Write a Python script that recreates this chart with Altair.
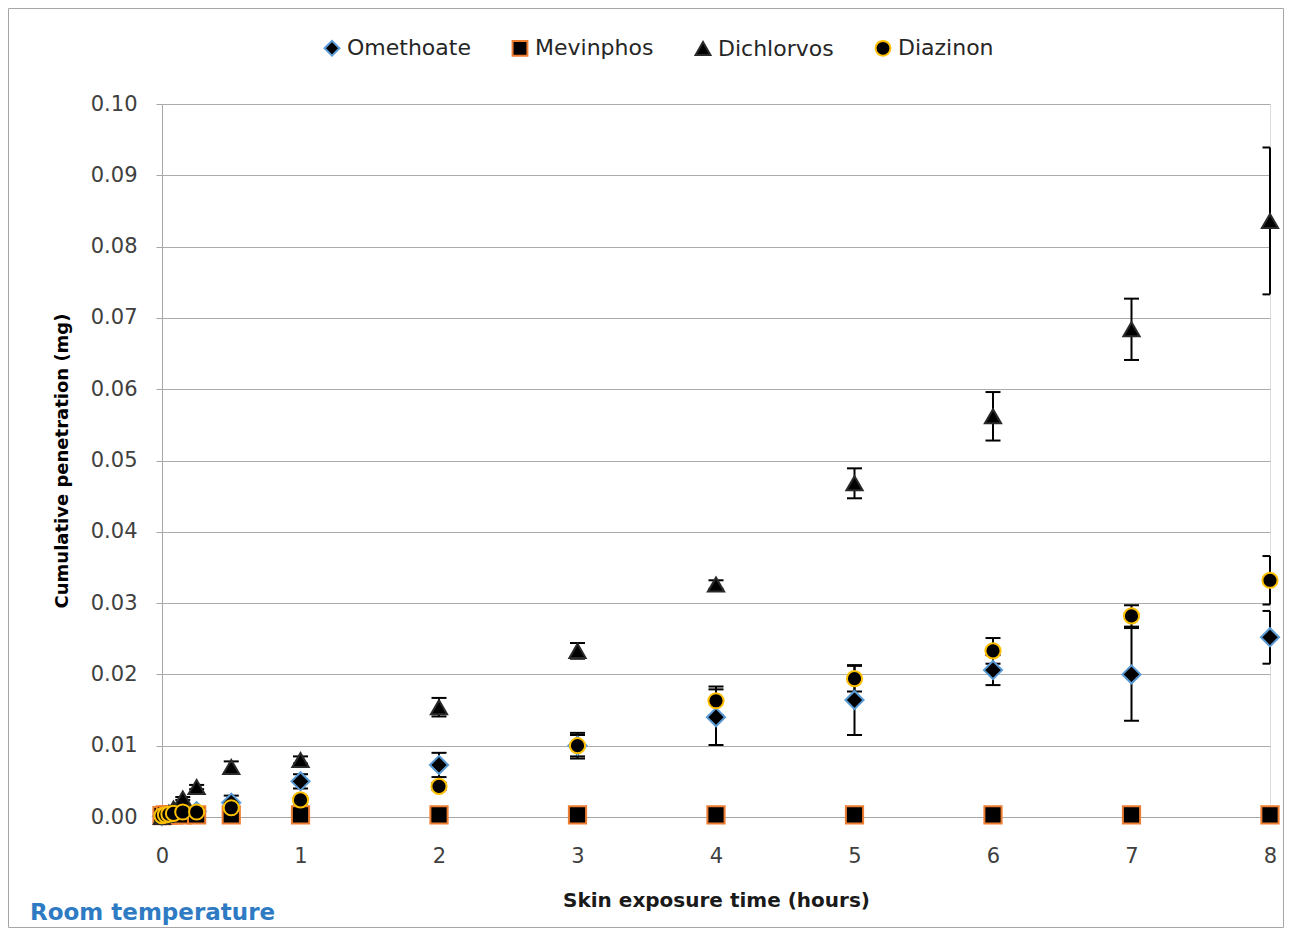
import altair as alt
import pandas as pd

series_names = ["Omethoate", "Mevinphos", "Dichlorvos", "Diazinon"]
marker_shapes = ["diamond", "square", "triangle-up", "circle"]
marker_strokes = ["#5b9bd5", "#ed7d31", "#2a2a2a", "#ffc000"]
marker_sizes = [330, 230, 270, 270]

times = [0, 0.025, 0.05, 0.083, 0.15, 0.25, 0.5, 1, 2, 3, 4, 5, 6, 7, 8]

omethoate = [0.0001, 0.0002, 0.0003, 0.0004, 0.0006, 0.0008, 0.0020, 0.0050,
             0.0073, 0.0100, 0.0140, 0.0164, 0.0206, 0.0200, 0.0252]
omethoate_err = [0, 0, 0, 0, 0.0002, 0.0003, 0.0010, 0.0010,
                 0.0017, 0.0015, 0.0039, 0.0049, 0.0021, 0.0065, 0.0037]

mevinphos = [0.0002, 0.0003, 0.0003, 0.0003, 0.0003, 0.0003, 0.0003, 0.0003,
             0.0003, 0.0003, 0.0003, 0.0003, 0.0003, 0.0003, 0.0003]
mevinphos_err = [0, 0, 0, 0, 0, 0, 0, 0, 0, 0, 0, 0, 0, 0, 0]

dichlorvos = [0.0000, 0.0003, 0.0006, 0.0012, 0.0026, 0.0042, 0.0070, 0.0080,
              0.0154, 0.0233, 0.0326, 0.0468, 0.0562, 0.0684, 0.0836]
dichlorvos_err = [0, 0, 0, 0.0001, 0.0002, 0.0003, 0.0008, 0.0005,
                  0.0013, 0.0011, 0.0006, 0.0021, 0.0034, 0.0043, 0.0103]

diazinon = [0.0002, 0.0003, 0.0004, 0.0005, 0.0007, 0.0007, 0.0013, 0.0024,
            0.0043, 0.0100, 0.0163, 0.0194, 0.0233, 0.0282, 0.0332]
diazinon_err = [0, 0, 0, 0, 0.0001, 0.0001, 0.0003, 0.0005,
                0.0005, 0.0018, 0.0020, 0.0018, 0.0018, 0.0015, 0.0034]

x_ticks = [0, 1, 2, 3, 4, 5, 6, 7, 8]
y_ticks = [0.00, 0.01, 0.02, 0.03, 0.04, 0.05, 0.06, 0.07, 0.08, 0.09, 0.10]

x_title = "Skin exposure time (hours)"
y_title = "Cumulative penetration (mg)"
note_text = "Room temperature"

rows = []
idx = 0
for name, vals, errs in [
    ("Omethoate", omethoate, omethoate_err),
    ("Mevinphos", mevinphos, mevinphos_err),
    ("Dichlorvos", dichlorvos, dichlorvos_err),
    ("Diazinon", diazinon, diazinon_err),
]:
    for t, v, e in zip(times, vals, errs):
        rows.append({"series": name, "t": t, "v": v, "lo": v - e, "hi": v + e,
                     "err": e, "idx": idx})
        idx += 1
df = pd.DataFrame(rows)

W, H = 1108, 713
PAD_L, PAD_T, PAD_R, PAD_B = 154, 96, 14, 111

FONT = "DejaVu Sans"

x_axis = alt.Axis(values=x_ticks, title=x_title, grid=False, format="d",
                  labelFont=FONT, labelFontSize=21, labelColor="#404040",
                  labelPadding=22, labelFlush=False, tickSize=6,
                  tickColor="#a6a6a6",
                  domainColor="#a6a6a6", titleFont=FONT, titleFontSize=20,
                  titleFontWeight="bold", titleColor="#1a1a1a",
                  titleY=83, titleBaseline="middle")
y_axis = alt.Axis(values=y_ticks, title=y_title, format=".2f", grid=True,
                  gridColor="#ababab", labelFont=FONT, labelFontSize=21,
                  labelColor="#404040", labelPadding=19, tickSize=6,
                  tickColor="#a6a6a6", domainColor="#a6a6a6",
                  titleFont=FONT, titleFontSize=18, titleFontWeight="bold",
                  titleColor="#000000", titleX=-100, titleY=H / 2,
                  titleAlign="center", titleBaseline="middle")

xs = alt.Scale(domain=[0, 8], nice=False)
ys = alt.Scale(domain=[0, 0.1], nice=False)

base = alt.Chart(df)

err_df = base.transform_filter("datum.err > 0")

rules = err_df.mark_rule(color="black", strokeWidth=2).encode(
    x=alt.X("t:Q", scale=xs, axis=x_axis),
    y=alt.Y("lo:Q", scale=ys, axis=y_axis),
    y2="hi:Q",
)
caps_lo = err_df.mark_tick(color="black", orient="horizontal", size=15,
                           thickness=2, clip=True, opacity=1).encode(
    x=alt.X("t:Q", scale=xs, axis=x_axis),
    y=alt.Y("lo:Q", scale=ys, axis=y_axis),
)
caps_hi = err_df.mark_tick(color="black", orient="horizontal", size=15,
                           thickness=2, clip=True, opacity=1).encode(
    x=alt.X("t:Q", scale=xs, axis=x_axis),
    y=alt.Y("hi:Q", scale=ys, axis=y_axis),
)

leg = alt.Legend(title=None, orient="none", legendX=159, legendY=-67,
                 direction="horizontal", columns=4, labelFont=FONT,
                 labelFontSize=22, labelColor="#262626", symbolSize=220,
                 symbolStrokeWidth=2, columnPadding=37, labelOffset=4,
                 padding=0)

points = base.transform_calculate(series_sz="'s_' + datum.series").mark_point(
    filled=False, strokeWidth=2, opacity=1).encode(
    x=alt.X("t:Q", scale=xs, axis=x_axis),
    y=alt.Y("v:Q", scale=ys, axis=y_axis),
    shape=alt.Shape("series:N", scale=alt.Scale(domain=series_names,
                                                range=marker_shapes),
                    legend=leg),
    stroke=alt.Stroke("series:N", scale=alt.Scale(domain=series_names,
                                                  range=marker_strokes),
                      legend=leg),
    fill=alt.Fill("series:N", scale=alt.Scale(domain=series_names,
                                              range=["#000000"] * 4),
                  legend=leg),
    size=alt.Size("series_sz:N",
                  scale=alt.Scale(domain=["s_" + s for s in series_names],
                                  range=marker_sizes),
                  legend=None),
    order=alt.Order("idx:Q"),
)

one = pd.DataFrame({"label": [note_text]})
note = alt.Chart(one).mark_text(align="left", baseline="middle",
                                font=FONT, fontSize=23, fontWeight="bold",
                                color="#2e7bc4").encode(
    x=alt.value(30 - 162), y=alt.value(913 - 104), text="label:N")

frame = alt.Chart(one).mark_rect(fill="transparent", stroke="#a6a6a6",
                                 strokeWidth=1).encode(
    x=alt.value(-PAD_L + 0.5), x2=alt.value(W + PAD_R - 0.5),
    y=alt.value(-PAD_T + 0.5), y2=alt.value(H + PAD_B - 0.5))

chart = alt.layer(frame, rules, caps_lo, caps_hi, points, note).properties(
    width=W, height=H,
    autosize=alt.AutoSizeParams(type="none"),
    padding={"left": PAD_L, "top": PAD_T, "right": PAD_R, "bottom": PAD_B},
).configure_view(strokeWidth=0).configure(background="white")

chart.save("out.html", embed_options={"renderer": "svg", "actions": False})
